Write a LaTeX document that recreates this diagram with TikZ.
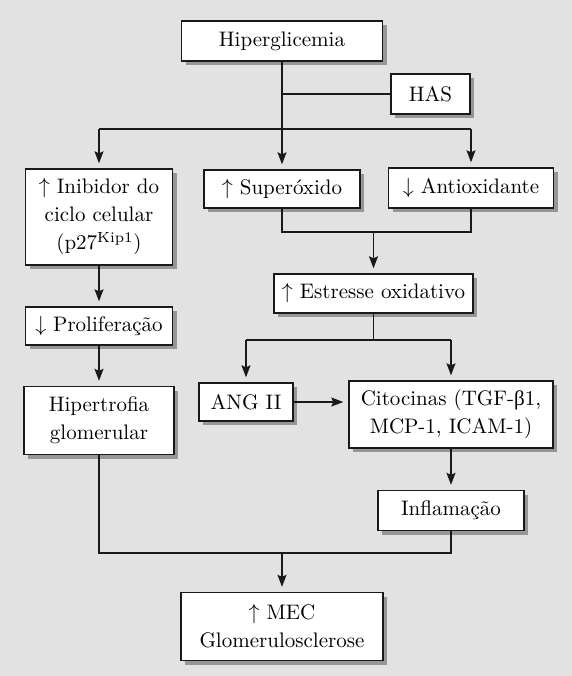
\documentclass[tikz,border=0pt]{standalone}
\usepackage{fontspec}
\newfontfamily\greekfont{Liberation Serif}
\usepackage{tikz}
\usetikzlibrary{
  arrows.meta,
  positioning,
  shadows
}
\definecolor{paperbg}{RGB}{226, 226, 226}
\definecolor{shadowcolor}{RGB}{150, 150, 150}
\definecolor{linecolor}{RGB}{25, 25, 25}
\tikzset{
blocktext/.style={
  align=center,
  font=\fontsize{10.5}{14}\selectfont,
  text=black
},
block/.style={
  draw=linecolor,
  line width=0.7pt,
  fill=white,
  inner sep=0pt,
  drop shadow={shadow xshift=2pt, shadow yshift=-2pt, fill=shadowcolor, opacity=1},
  blocktext
},
link/.style={
  draw=linecolor,
  line width=0.55pt
},
arrow/.style={
  link,
  -{Stealth[length=6pt,width=4.5pt,inset=1pt]},
  shorten >=2.5pt
}
}

\begin{document}
\begin{tikzpicture}[x=0.5pt, y=-0.5pt]
  % Column positions
  \def\colL{99}    % left chain
  \def\colM{282}   % main trunk
  \def\colR{471}   % antioxidant branch
  \def\colC{451}   % cytokine branch

  % Page background
  \fill[paperbg] (0,0) rectangle (572,676);
  \useasboundingbox (0,0) rectangle (572,676);

  % Top of the cascade
  \node[block, minimum width=100.5pt, minimum height=20pt] (hyper) at (\colM,41) {Hiperglicemia};
  \node[block, minimum width=39.5pt, minimum height=20pt] (has) at (430.5,94) {HAS};

  % First row
  \node[block, minimum width=73.5pt, minimum height=48pt] (inib) at (\colL,217)
    {$\uparrow$ Inibidor do\\ciclo celular\\(p27\textsuperscript{Kip1})};
  \node[block, minimum width=78pt, minimum height=19pt] (super) at (\colM,189) {$\uparrow$ Superóxido};
  \node[block, minimum width=82.5pt, minimum height=20pt] (antiox) at (\colR,188) {$\downarrow$ Antioxidante};

  % Oxidative stress and its products
  \node[block, minimum width=99.5pt, minimum height=19.5pt] (stress) at (373.5,293.5) {$\uparrow$ Estresse oxidativo};
  \node[block, minimum width=47pt, minimum height=19pt] (ang) at (246,402) {ANG II};
  \node[block, minimum width=102pt, minimum height=33.5pt] (citoc) at (\colC,414.5)
    {Citocinas (TGF-{\greekfont β}1,\\MCP-1, ICAM-1)};
  \node[block, minimum width=73pt, minimum height=20pt] (inflam) at (\colC,510.5) {Inflamação};

  % Left chain
  \node[block, minimum width=73.5pt, minimum height=19pt] (prolif) at (\colL,326) {$\downarrow$ Proliferação};
  \node[block, minimum width=75pt, minimum height=34pt] (hipert) at (\colL,420.5) {Hipertrofia\\glomerular};

  % Outcome
  \node[block, minimum width=101pt, minimum height=34pt] (mec) at (\colM,626.5) {$\uparrow$ MEC\\Glomerulosclerose};

  % Junction levels
  \coordinate (branch) at (0,129);
  \coordinate (joinA) at (0,232);
  \coordinate (joinB) at (0,340);
  \coordinate (joinC) at (0,553);

  % Hyperglycaemia and HAS fan out
  \draw[arrow] (hyper.south) -- (super.north);
  \draw[link] (has.west) -- (has.west -| hyper.south);
  \draw[link] (inib.north |- branch) -- (antiox.north |- branch);
  \draw[arrow] (inib.north |- branch) -- (inib.north);
  \draw[arrow] (antiox.north |- branch) -- (antiox.north);

  % Superoxide + antioxidant -> stress
  \draw[link] (super.south) -- (super.south |- joinA) -- (antiox.south |- joinA) -- (antiox.south);
  \draw[arrow] (stress.north |- joinA) -- (stress.north);

  % Stress -> ANG II and cytokines
  \draw[link] (stress.south) -- (stress.south |- joinB);
  \draw[link] (ang.north |- joinB) -- (citoc.north |- joinB);
  \draw[arrow] (ang.north |- joinB) -- (ang.north);
  \draw[arrow] (citoc.north |- joinB) -- (citoc.north);
  \draw[arrow] (ang.east) -- (ang.east -| citoc.west);
  \draw[arrow] (citoc.south) -- (inflam.north);

  % Left chain
  \draw[arrow] (inib.south) -- (prolif.north);
  \draw[arrow] (prolif.south) -- (hipert.north);

  % Both sides -> outcome
  \draw[link] (hipert.south) -- (hipert.south |- joinC) -- (inflam.south |- joinC) -- (inflam.south);
  \draw[arrow] (mec.north |- joinC) -- (mec.north);
\end{tikzpicture}
\end{document}
